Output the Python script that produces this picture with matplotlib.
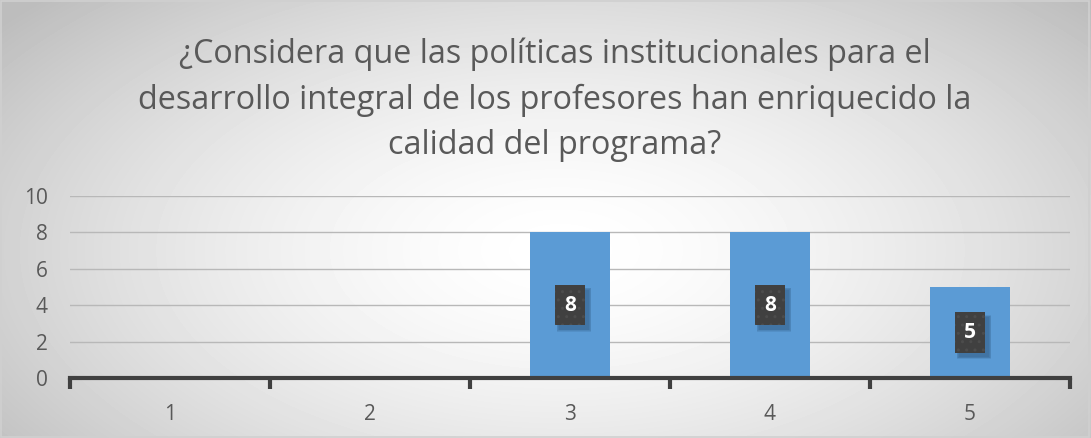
import numpy as np
from matplotlib import pyplot as plt

# data
categories = ['1', '2', '3', '4', '5']
values = [0, 0, 8, 8, 5]
yticks = [0, 2, 4, 6, 8, 10]
title = ("¿Considera que las políticas institucionales para el\n"
         "desarrollo integral de los profesores han enriquecido la\n"
         "calidad del programa?")

plt.rcParams['font.family'] = ['Open Sans', 'DejaVu Sans']

fig = plt.figure(figsize=(10.91, 4.38), dpi=100)

# radial background
bg = fig.add_axes([0, 0, 1, 1], zorder=-10)
yy, xx = np.mgrid[0:438, 0:1091]
r = np.sqrt(((xx - 560) / 640.0) ** 2 + ((yy - 250) / 330.0) ** 2)
shade = np.clip(1.0 - 0.22 * r ** 1.6, 0.74, 1.0)
bg.imshow(shade, cmap='gray', vmin=0, vmax=1, aspect='auto',
          extent=[0, 1, 0, 1], origin='upper')
bg.add_patch(plt.Rectangle((0.001, 0.002), 0.997, 0.995, fill=False,
                           edgecolor='#d0d0d0', lw=1.2, transform=bg.transAxes))
bg.axis('off')

ax = fig.add_axes([70 / 1091, 1 - 378 / 438, 1000 / 1091, 182 / 438])
ax.patch.set_alpha(0)

x = np.arange(1, len(categories) + 1)
ax.bar(x, values, width=0.4, color='#5b9bd5', zorder=3)

# data labels: dark box with soft shadow
bw, bh = 0.15, 2.2
for xi, v in zip(x, values):
    if v > 0:
        cy = v / 2
        for k in range(4):
            g = 0.004 * k
            ax.add_patch(plt.Rectangle((xi - bw / 2 + 0.02 - g, cy - bh / 2 - 0.25 - g * 9),
                                       bw + 2 * g, bh + 2 * g * 9,
                                       color='#1f3f60', alpha=0.12, lw=0, zorder=4))
        ax.add_patch(plt.Rectangle((xi - bw / 2, cy - bh / 2), bw, bh,
                                   facecolor='#404040', edgecolor='#4c4c4c', hatch='..',
                                   lw=0, zorder=5))
        ax.text(xi, cy, str(v), ha='center', va='center', color='white',
                fontsize=15, fontweight='bold', zorder=6)

ax.set_xlim(0.5, 5.5)
ax.set_ylim(0, 10)
ax.set_yticks(yticks)
ax.set_xticks(x)
ax.set_xticklabels(categories)
ax.yaxis.grid(True, color='#b8b8b8', lw=1, zorder=0)
ax.set_axisbelow(True)
for s in ['top', 'right', 'left']:
    ax.spines[s].set_visible(False)
ax.spines['bottom'].set_color('#404040')
ax.spines['bottom'].set_linewidth(3)
ax.spines['bottom'].set_zorder(6)
ax.tick_params(axis='y', length=0, labelsize=15, labelcolor='#595959', pad=16)
ax.tick_params(axis='x', length=0, labelsize=15, labelcolor='#595959', pad=19)
# category boundary ticks
ax.set_xticks(np.arange(0.5, 6.0, 1.0), minor=True)
ax.tick_params(axis='x', which='minor', length=8, width=3, color='#404040', direction='out')

fig.text(555 / 1091, 1 - 100 / 438, title, ha='center', va='center',
         fontsize=23.3, color='#595959', linespacing=1.5)

plt.savefig('out.png', dpi=100)
